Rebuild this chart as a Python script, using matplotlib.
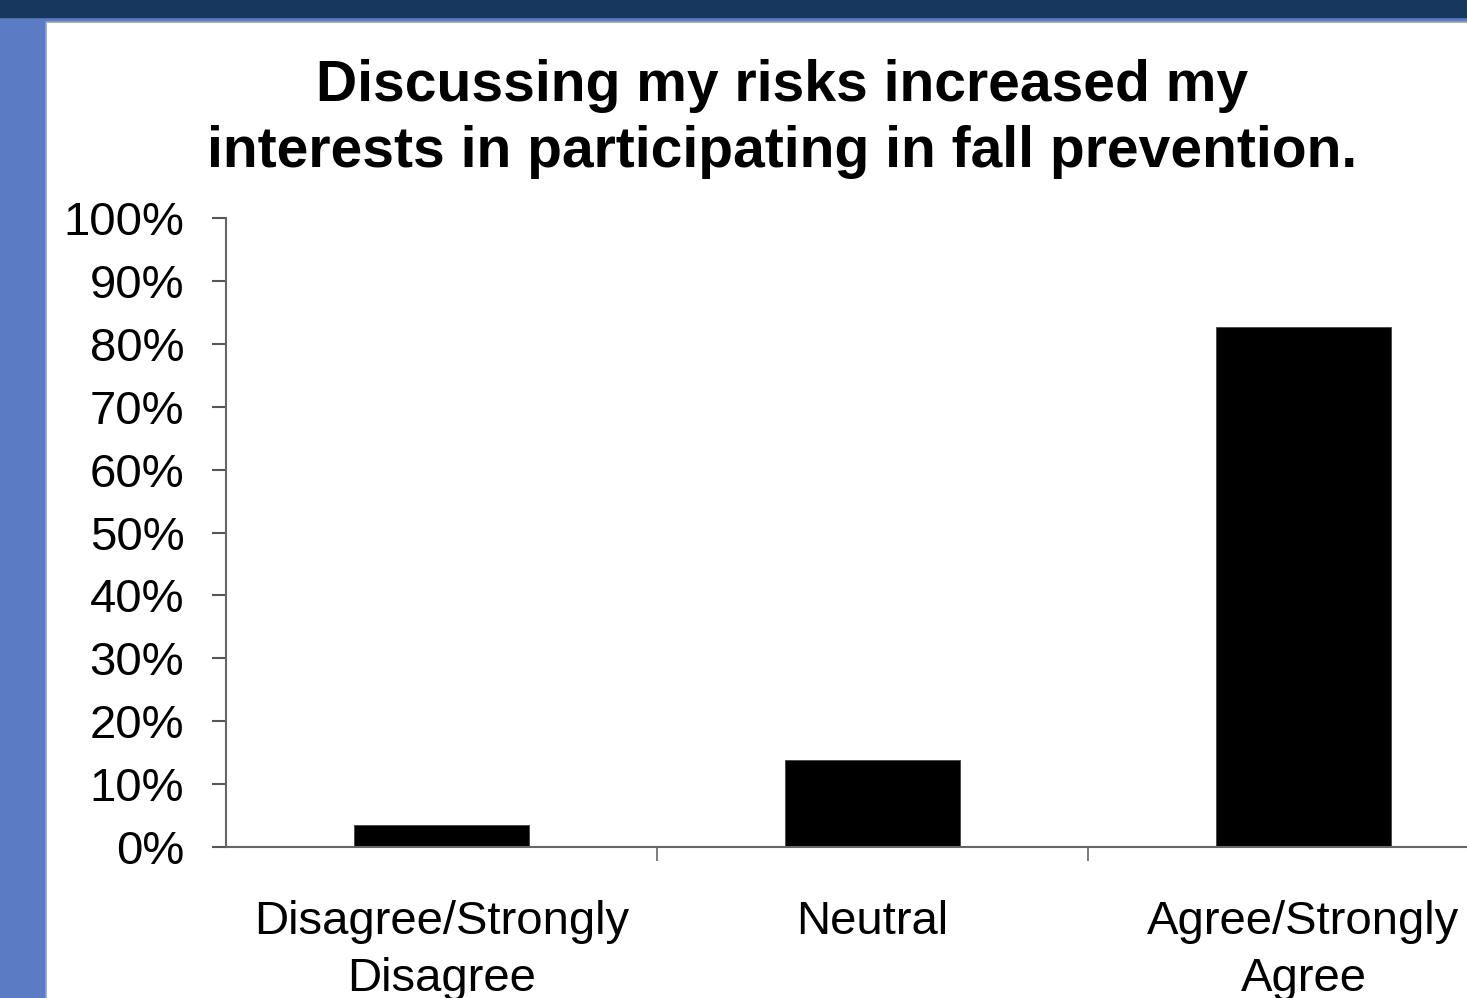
import matplotlib
matplotlib.use("Agg")
import matplotlib.pyplot as plt
from matplotlib.patches import Rectangle
from matplotlib.ticker import FuncFormatter

categories = ["Disagree/Strongly\nDisagree", "Neutral", "Agree/Strongly\nAgree"]
percentages = [3.5, 13.8, 82.7]
yticks = [0, 10, 20, 30, 40, 50, 60, 70, 80, 90, 100]
title = "Discussing my risks increased my\ninterests in participating in fall prevention."

plt.rcParams['font.family'] = ['Liberation Sans', 'DejaVu Sans']

W, H = 1467, 998
fig = plt.figure(figsize=(W / 100, H / 100), dpi=100)

# slide background: navy top band, blue strips, white panel
fig.patches.append(Rectangle((0, 0), 1, 1, transform=fig.transFigure, color="#5b7bc4", zorder=-3))
fig.patches.append(Rectangle((0, 1 - 17 / H), 1, 17 / H, transform=fig.transFigure, color="#17375e", zorder=-2))
fig.patches.append(Rectangle((46 / W, -0.01), 1, 1.01 - 22 / H, transform=fig.transFigure,
                             facecolor="white", edgecolor="#a0a0a0", linewidth=1.2, zorder=-1))

ax = fig.add_axes([226 / W, 151 / H, 1293 / W, 629 / H])
ax.bar(range(len(categories)), percentages, width=0.404, color="black", edgecolor="#444444", linewidth=0.6)

ax.set_xlim(-0.5, len(categories) - 0.5)
ax.set_ylim(0, 100)
ax.set_yticks(yticks)
ax.yaxis.set_major_formatter(FuncFormatter(lambda v, p: f"{v:.0f}%"))
ax.set_xticks([0.5, 1.5], minor=False)
ax.set_xticklabels([])
ax.set_xticks(range(len(categories)), minor=True)
ax.set_xticklabels(categories, minor=True, fontsize=34, linespacing=1.4)
ax.tick_params(axis="x", which="minor", length=0, pad=38)
ax.tick_params(axis="x", which="major", length=10, width=1.2, color="#666666", direction="out")
ax.tick_params(axis="y", length=10, width=1.5, color="#555555", labelsize=34, pad=20)

for side in ["top", "right"]:
    ax.spines[side].set_visible(False)
for side in ["left", "bottom"]:
    ax.spines[side].set_color("#666666")
    ax.spines[side].set_linewidth(1.5)
ax.set_facecolor("none")

fig.text(782 / W, 1 - 119 / H, title, ha="center", va="center", fontsize=41,
         fontweight="bold", linespacing=1.3)

fig.savefig("out.png", dpi=100)
